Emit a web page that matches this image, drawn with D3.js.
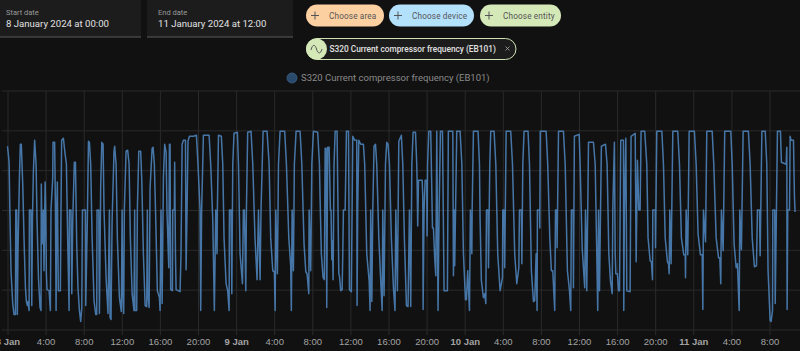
<!DOCTYPE html>
<html><head><meta charset="utf-8">
<script src="https://cdn.jsdelivr.net/npm/d3@7"></script>
<style>html,body{margin:0;padding:0;background:#111;overflow:hidden}svg{display:block;font-family:Roboto,sans-serif}</style>
</head><body><svg id="c" width="800" height="351"></svg>
<script>
// Each sample: [minutes since 8 Jan 2024 00:00, compressor frequency]
const block1=[[0,92],[10,84],[16,55],[22,29.5],[33,13],[41,7.5],[50,7.5],[52,60],[58,60],[62,7.5],[66,38],[75,76],[81,93],[87,93],[96,73],[104,46],[113,21],[119,14],[125,12],[129,14],[136,9.5],[138,60],[148,60],[153,12],[157,55],[163,79],[171,95],[180,83],[186,55],[195,26],[205,11],[211,9.5],[213,73],[218,43],[226,60],[230,29.5],[237,74],[241,60],[245,28],[249,20],[262,19.5],[270,9.5],[274,60],[285,76],[287,94],[297,94],[302,60],[306,9.5],[310,60],[314,74],[320,19.5],[333,19.5],[337,60],[341,95],[352,96],[363,88],[371,83],[379,46],[388,9.5],[390,60],[400,60],[405,18],[411,55],[421,84],[428,84],[436,43],[444,21],[453,9.5],[461,4],[468,11],[472,60],[491,60],[493,12],[503,55],[510,94.5],[516,94],[524,83],[533,46],[545,14.5],[556,7.5],[562,7.5],[564,60],[575,60],[579,8],[587,71],[594,94],[602,93],[608,60],[621,26],[633,8],[642,60],[646,6],[652,5],[659,55],[671,89.5],[675,92],[684,83],[692,46],[705,16],[717,9],[722,60],[726,19.5],[732,8],[736,60],[747,89.5],[757,90],[766,83],[774,46],[785,18],[797,9.5],[801,60],[803,9.5],[814,9.5],[818,60],[827,89.5],[839,89.5],[846,74.5],[856,38],[867,12],[877,11.5],[881,60],[883,19.5],[892,11],[898,71],[911,91],[917,91.5],[925,83],[934,55],[944,19.5],[957,16]];
const block2=[[961,9.5],[967,60],[974,13],[982,76],[990,93],[999,89],[1005,58],[1016,31],[1020,93],[1024,93],[1028,20],[1039,19.5],[1041,60],[1051,60],[1053,84],[1058,38],[1062,20],[1087,19],[1093,38],[1100,93],[1108,95],[1121,95],[1125,30],[1131,60],[1137,94.5],[1146,97],[1171,97],[1190,97.5],[1200,83],[1213,60],[1217,9.5],[1223,60],[1234,97.5],[1270,97.5],[1280,83],[1293,55],[1303,9.5],[1312,60],[1320,38],[1322,60],[1329,97.5],[1347,97],[1356,83],[1364,46],[1377,23],[1387,19.5],[1396,9.5],[1398,60],[1408,60],[1413,18],[1419,83],[1427,98.5],[1448,99],[1455,83],[1465,38],[1480,23],[1486,60],[1492,60],[1497,39],[1501,19.5],[1505,60],[1513,99],[1534,99.5],[1545,83],[1559,46],[1572,25],[1581,60],[1591,25],[1597,60],[1610,99.5],[1635,99.5],[1648,83],[1658,46],[1671,29.5],[1681,29],[1686,9.5],[1690,60],[1700,28],[1707,83],[1717,99.5],[1746,99.5],[1757,83],[1772,46],[1784,32],[1788,9.5],[1793,60],[1801,29.5],[1807,83],[1818,99.5],[1843,99.5],[1854,83],[1868,43],[1879,29],[1887,28],[1898,18],[1900,60],[1910,29.5],[1917,83],[1927,99.5],[1954,99],[1965,83]];
const block3=[[1969,66],[1977,38],[1988,26],[1996,25],[2001,91],[2007,91],[2011,11],[2017,91.5],[2026,91.5],[2034,60],[2038,60],[2043,35],[2047,44.5],[2051,25],[2057,83],[2064,99.5],[2076,99.5],[2082,60],[2087,28],[2091,27],[2099,19.5],[2108,20],[2112,38],[2116,60],[2127,60],[2135,99.5],[2148,99.5],[2154,20],[2166,19],[2175,97],[2187,95],[2200,95],[2202,12],[2206,60],[2213,95],[2225,93],[2242,93],[2250,83],[2263,38],[2278,24.5],[2284,9.5],[2288,60],[2295,14],[2301,60],[2309,92],[2318,93],[2326,83],[2339,46],[2353,21],[2360,9.5],[2364,60],[2372,17],[2381,83],[2389,94],[2397,93],[2406,83],[2418,46],[2431,21],[2441,9.5],[2446,60],[2456,19.5],[2465,94.5],[2481,97.5],[2490,83],[2500,46],[2513,12],[2523,11.5],[2532,60],[2540,11.5],[2547,83],[2555,99],[2570,99],[2578,83],[2580,75],[2584,52],[2589,75],[2612,75],[2616,67],[2618,10],[2624,60],[2631,75],[2641,75],[2643,47],[2646,83],[2654,99.5],[2666,99.5],[2677,51],[2683,51],[2691,36],[2698,27],[2704,99.5],[2712,9.5],[2719,60],[2727,99.5],[2740,99.5],[2750,19.5],[2771,19.5],[2777,99.5],[2805,99.5],[2809,27],[2815,60],[2817,32],[2830,99.5],[2851,99.5],[2862,83],[2872,38],[2885,15],[2891,15],[2899,29.5],[2910,9.5],[2916,60],[2925,38],[2927,60],[2935,99.5],[2964,99.5],[2973,83]];
const block4=[[2977,55],[2985,24.5],[2998,16],[3006,18],[3013,13],[3017,60],[3027,60],[3030,31],[3038,83],[3044,99.5],[3065,99.5],[3076,83],[3088,38],[3103,19.5],[3118,26],[3120,60],[3128,60],[3132,31],[3141,99.5],[3170,99.5],[3181,83],[3195,38],[3208,23],[3221,31],[3225,60],[3237,60],[3240,33],[3246,83],[3254,99.5],[3279,99.5],[3288,83],[3300,29.5],[3313,14],[3321,14.5],[3330,38],[3336,9.5],[3338,60],[3351,60],[3353,51],[3356,99.5],[3393,99.5],[3403,83],[3416,46],[3426,29.5],[3435,29.5],[3447,9.5],[3452,60],[3460,60],[3462,41],[3471,99.5],[3502,99.5],[3513,83],[3527,29.5],[3540,19.5],[3548,9.5],[3552,60],[3563,60],[3565,21],[3571,97],[3601,98],[3607,83],[3620,41],[3636,21],[3641,60],[3645,46],[3649,19.5],[3660,94],[3691,94],[3702,83],[3712,38],[3718,9.5],[3723,60],[3729,19.5],[3741,92],[3767,93],[3777,83],[3788,38],[3798,24.5],[3809,18],[3813,60],[3823,94],[3828,38],[3832,28],[3842,28],[3849,19.5],[3855,19.5],[3863,95],[3880,95],[3882,9.5],[3886,60],[3895,96],[3901,19.5],[3922,19],[3928,97],[3954,98.5],[3960,34],[3968,85],[3977,60],[3985,60]];
const block5=[[3991,99.5],[4014,99.5],[4027,83],[4035,46],[4048,34.5],[4056,34],[4063,25],[4065,60],[4080,60],[4082,41],[4090,99.5],[4122,99.5],[4132,83],[4143,46],[4157,34],[4164,33],[4168,28],[4172,60],[4180,33],[4191,99.5],[4222,99.5],[4233,83],[4245,46],[4260,37.5],[4269,37.5],[4271,26],[4275,60],[4285,37.5],[4294,99.5],[4327,99.5],[4338,83],[4350,48],[4365,37.5],[4376,37.5],[4380,10],[4384,60],[4397,44],[4405,99.5],[4439,99.5],[4449,83],[4464,46],[4479,36],[4487,36],[4493,23],[4497,60],[4508,39.5],[4518,99.5],[4556,99.5],[4565,83],[4577,43],[4590,31],[4598,33],[4609,9.5],[4613,60],[4623,40],[4634,99.5],[4667,99.5],[4678,83],[4691,46],[4705,31.5],[4718,32],[4724,60],[4737,60],[4741,37],[4752,99.5],[4773,99.5],[4783,83],[4791,29.5],[4804,4.5],[4810,4],[4819,9.5],[4821,60],[4833,60],[4836,13],[4850,99.5],[4869,99.5],[4875,84],[4905,83],[4909,91.5],[4911,10],[4915,60],[4926,60],[4930,97],[4936,95],[4951,95],[4957,67],[4961,59]];
const seriesName="S320 Current compressor frequency (EB101)";
const yTicks=[0,20,40,60,80,100,120];
const dateFields=[["Start date","8 January 2024 at 00:00"],["End date","11 January 2024 at 12:00"]];
const pickers=["Choose area","Choose device","Choose entity"];

const samples=[...block1,...block2,...block3,...block4,...block5];
const t0=Date.UTC(2024,0,8), MIN=60000, HOUR=60*MIN;
const svg=d3.select("#c");
svg.append("rect").attr("width",800).attr("height",351).attr("fill","#111111");

const x=d3.scaleUtc().domain([new Date(t0),new Date(t0+84*HOUR)]).range([7.5,807.6]);
const y=d3.scaleLinear().domain([0,120]).range([329.5,90.5]);

// grid + axes
const xTicks=d3.range(0,84,4).map(h=>new Date(t0+h*HOUR));
const xAxis=d3.axisBottom(x).tickValues(xTicks).tickSize(-244).tickPadding(3)
  .tickFormat(d=>d.getUTCHours()===0?d3.utcFormat("%-d Jan")(d):d3.utcFormat("%-H:00")(d));
const gx=svg.append("g").attr("transform","translate(0,335)").call(xAxis);
gx.select(".domain").remove();
gx.selectAll("line").attr("stroke","#2a2a2a");
gx.selectAll("text").attr("fill","#a3a3a3").attr("font-size",9.5)
  .attr("font-weight",d=>d.getUTCHours()===0?700:400);
const yAxis=d3.axisLeft(y).tickValues(yTicks).tickSize(-798).tickFormat("");
const gy=svg.append("g").attr("transform","translate(2,0)").call(yAxis);
gy.select(".domain").remove();
gy.selectAll("line").attr("stroke","#2a2a2a");

// series
const line=d3.line().x(d=>x(new Date(t0+d[0]*MIN))).y(d=>y(d[1]));
svg.append("path").datum(samples).attr("d",line).attr("fill","none")
  .attr("stroke","#4d82b8").attr("stroke-width",1.5).attr("stroke-opacity",.9).attr("stroke-linejoin","round");

// date fields
const dx=[[0,141,6],[147,146,158]];
dateFields.forEach((f,i)=>{
  const g=svg.append("g");
  g.append("rect").attr("x",dx[i][0]).attr("y",0).attr("width",dx[i][1]).attr("height",37).attr("fill","#1c1c1c");
  g.append("rect").attr("x",dx[i][0]).attr("y",36.5).attr("width",dx[i][1]).attr("height",1).attr("fill","#5a5a5a");
  g.append("text").attr("x",dx[i][2]).attr("y",15).attr("font-size",7.5).attr("fill","#9a9a9a").text(f[0]);
  g.append("text").attr("x",dx[i][2]).attr("y",27).attr("font-size",9.6).attr("fill","#e1e1e1").text(f[1]);
});

// picker chips
const chipFill=["#fdd0a2","#b3e0fb","#d4e8b8"], chipX=[306,389,480], chipW=[78,85,81];
pickers.forEach((p,i)=>{
  const g=svg.append("g");
  g.append("rect").attr("x",chipX[i]).attr("y",4.5).attr("width",chipW[i]).attr("height",22).attr("rx",11).attr("fill",chipFill[i]);
  const cx=chipX[i]+9;
  g.append("path").attr("d",`M${cx-4},15.5H${cx+4}M${cx},11.5V19.5`).attr("stroke","#555").attr("stroke-width",1).attr("fill","none");
  g.append("text").attr("x",chipX[i]+23).attr("y",18.5).attr("font-size",8.2).attr("fill","#555").attr("letter-spacing",.15).text(p);
});

// selected entity chip
const sel=svg.append("g");
sel.append("rect").attr("x",306.5).attr("y",38.5).attr("width",209.5).attr("height",21).attr("rx",10.5).attr("fill","#1c1c1c").attr("stroke","#cfe3b4").attr("stroke-width",1);
sel.append("circle").attr("cx",316.5).attr("cy",49).attr("r",10.5).attr("fill","#d4e8b8");
sel.append("path").attr("d","M311,50c1.5,-6 4,-6 5.5,-1s4,5.5 5.5,0").attr("fill","none").attr("stroke","#555").attr("stroke-width",1);
sel.append("text").attr("x",329.5).attr("y",51.5).attr("font-size",8.3).attr("font-weight",500).attr("fill","#e1e1e1").text(seriesName);
sel.append("path").attr("d","M505.5,46.5l4,4m0,-4l-4,4").attr("stroke","#aaa").attr("stroke-width",.8);

// legend
svg.append("circle").attr("cx",292).attr("cy",78).attr("r",5).attr("fill","#2a4a6b").attr("stroke","#3b6288").attr("stroke-width",.8);
svg.append("text").attr("x",301).attr("y",81).attr("font-size",9.5).attr("fill","#8a8a8a").text(seriesName);
</script></body></html>
